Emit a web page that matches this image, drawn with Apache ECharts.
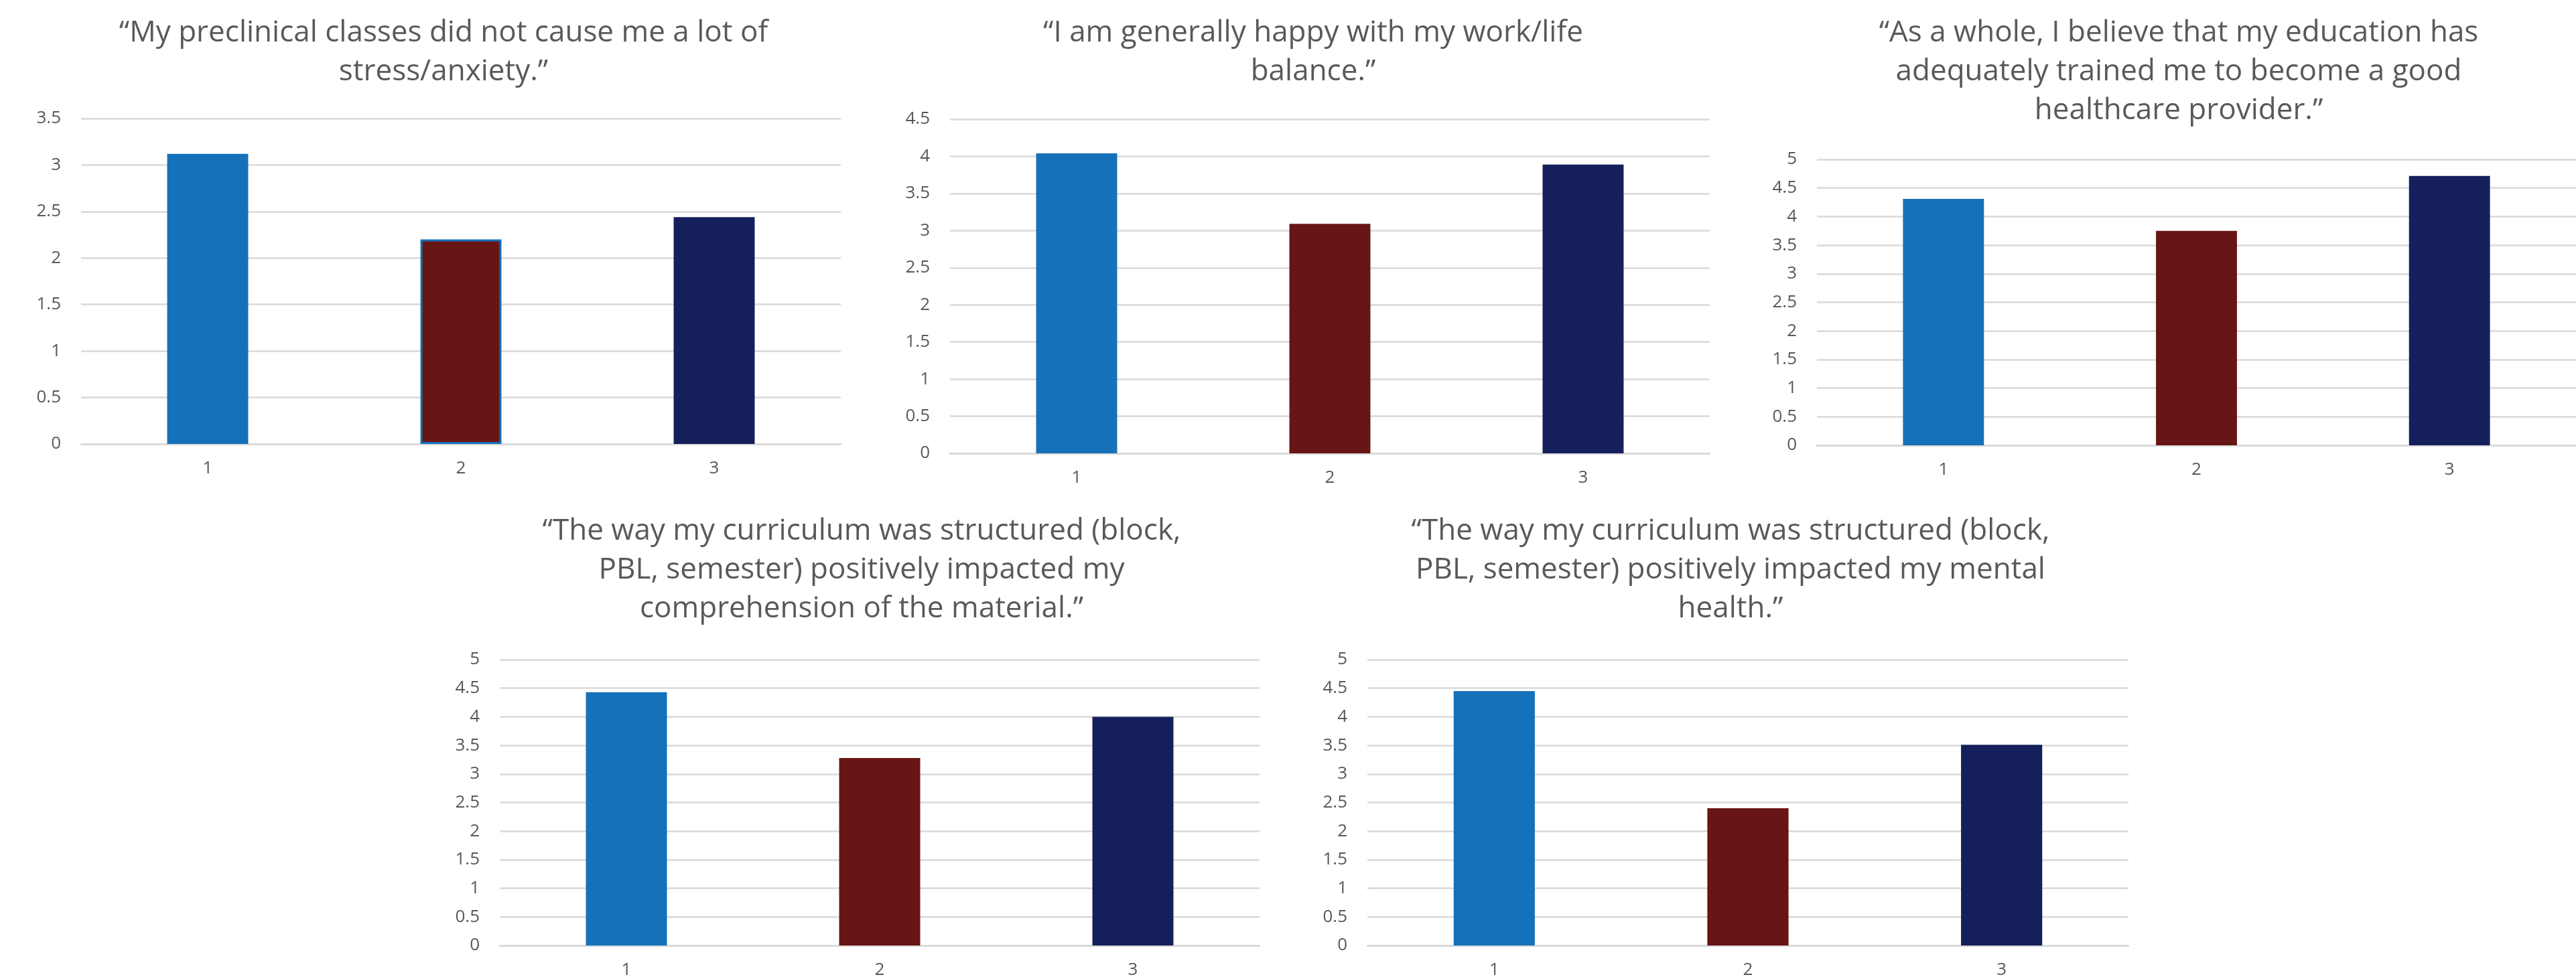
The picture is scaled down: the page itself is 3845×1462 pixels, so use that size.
<!DOCTYPE html>
<html>
<head>
<meta charset="utf-8">
<title>Survey responses by group</title>
<script src="https://cdn.jsdelivr.net/npm/echarts@6/dist/echarts.min.js"></script>
<style>
  html, body { margin: 0; padding: 0; background: #ffffff; }
  #main { width: 3845px; height: 1462px; }
</style>
</head>
<body>
<div id="main"></div>
<script>
// Group labels along each horizontal axis
const categories = ['1', '2', '3'];

// Survey statements (one per panel)
const statements = [
  '\u201cMy preclinical classes did not cause me a lot of\nstress/anxiety.\u201d',
  '\u201cI am generally happy with my work/life\nbalance.\u201d',
  '\u201cAs a whole, I believe that my education has\nadequately trained me to become a good\nhealthcare provider.\u201d',
  '\u201cThe way my curriculum was structured (block,\nPBL, semester) positively impacted my\ncomprehension of the material.\u201d',
  '\u201cThe way my curriculum was structured (block,\nPBL, semester) positively impacted my mental\nhealth.\u201d'
];

// Mean agreement score per group
const stressValues        = [3.12, 2.20, 2.44];
const workLifeValues      = [4.04, 3.09, 3.89];
const trainingValues      = [4.31, 3.75, 4.71];
const comprehensionValues = [4.43, 3.28, 4.00];
const mentalHealthValues  = [4.45, 2.40, 3.51];

// Value-axis maxima and tick step
const axisMax = [3.5, 4.5, 5, 5, 5];
const axisStep = 0.5;

const panelValues = [stressValues, workLifeValues, trainingValues, comprehensionValues, mentalHealthValues];

// Panel placement on the page (px)
const panels = [
  { left: 121,  top: 177, width: 1134, height: 486, titleX: 662,  titleY: 20 },
  { left: 1418, top: 178, width: 1134, height: 499, titleX: 1960, titleY: 20 },
  { left: 2712, top: 238, width: 1133, height: 427, titleX: 3252, titleY: 20 },
  { left: 746,  top: 985, width: 1134, height: 427, titleX: 1286, titleY: 764 },
  { left: 2041, top: 985, width: 1136, height: 427, titleX: 2583, titleY: 764 }
];

const barColors = ['#1571B9', '#681515', '#151F5B'];
const textColor = '#595959';
const gridColor = '#D9D9D9';
const fontFamily = '"Open Sans", Lato, sans-serif';

const option = {
  backgroundColor: '#ffffff',
  animation: false,
  title: panels.map((p, i) => ({
    text: statements[i],
    left: p.titleX,
    top: p.titleY,
    padding: 0,
    textAlign: 'center',
    textVerticalAlign: 'top',
    textStyle: {
      color: textColor,
      fontFamily: fontFamily,
      fontWeight: 'normal',
      fontSize: 44,
      lineHeight: 58
    }
  })),
  grid: panels.map(p => ({
    left: p.left,
    top: p.top,
    width: p.width,
    height: p.height,
    containLabel: false,
    outerBoundsMode: 'none'
  })),
  xAxis: panels.map((p, i) => ({
    type: 'category',
    gridIndex: i,
    data: categories,
    boundaryGap: true,
    axisTick: { show: false },
    axisLine: { show: true, lineStyle: { color: gridColor, width: 2.5 } },
    axisLabel: {
      color: textColor,
      fontFamily: fontFamily,
      fontSize: 26,
      margin: 24
    },
    splitLine: { show: false }
  })),
  yAxis: panels.map((p, i) => ({
    type: 'value',
    gridIndex: i,
    min: 0,
    max: axisMax[i],
    interval: axisStep,
    axisLine: { show: false },
    axisTick: { show: false },
    axisLabel: {
      color: textColor,
      fontFamily: fontFamily,
      fontSize: 26,
      margin: 30
    },
    splitLine: { show: true, lineStyle: { color: gridColor, width: 2.5 } }
  })),
  series: panelValues.map((vals, i) => ({
    type: 'bar',
    xAxisIndex: i,
    yAxisIndex: i,
    barWidth: '32%',
    z: 3,
    data: vals.map((v, j) => {
      const item = { value: v, itemStyle: { color: barColors[j] } };
      // the middle bar of the first panel carries a blue outline
      if (i === 0 && j === 1) {
        item.itemStyle.borderColor = barColors[0];
        item.itemStyle.borderWidth = 3;
      }
      return item;
    })
  }))
};

const chart = echarts.init(document.getElementById('main'), null, { renderer: 'canvas' });
chart.setOption(option);
</script>
</body>
</html>
